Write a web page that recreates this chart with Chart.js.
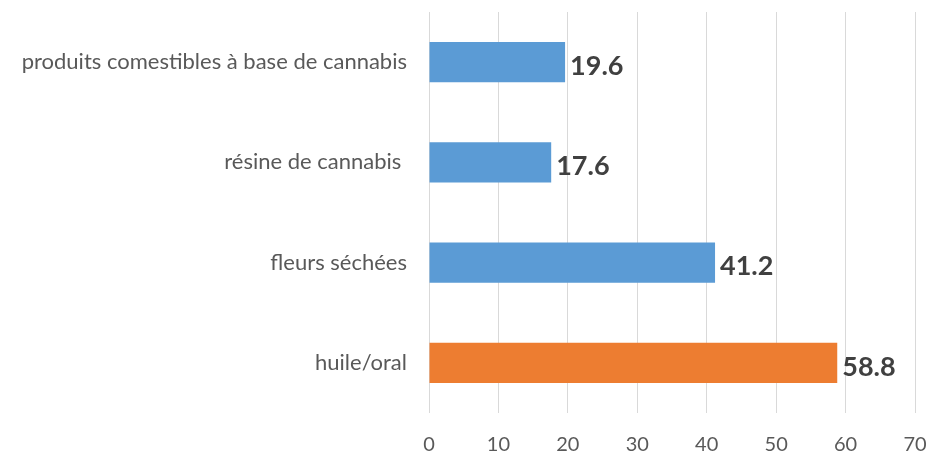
<!DOCTYPE html>
<html>
<head>
<meta charset="utf-8">
<script src="https://cdn.jsdelivr.net/npm/chart.js@4"></script>
<style>
  html, body { margin: 0; padding: 0; background: #fff; }
  #wrap { width: 928px; height: 457px; }
</style>
</head>
<body>
<div id="wrap"><canvas id="chart"></canvas></div>
<script>
// Data
const categories = ['produits comestibles à base de cannabis', 'résine de cannabis ', 'fleurs séchées', 'huile/oral'];
const values = [19.6, 17.6, 41.2, 58.8];
const barColors = ['#5B9BD5', '#5B9BD5', '#5B9BD5', '#ED7D31'];

// Draw value labels at the end of each bar
const valueLabels = {
  id: 'valueLabels',
  afterDatasetsDraw(chart) {
    const ctx = chart.ctx;
    const meta = chart.getDatasetMeta(0);
    ctx.save();
    ctx.font = 'bold 27px Lato';
    ctx.fillStyle = '#404040';
    ctx.textAlign = 'left';
    ctx.textBaseline = 'middle';
    meta.data.forEach((bar, i) => {
      ctx.fillText(values[i].toFixed(1), bar.x + 5, bar.y + 4);
    });
    ctx.restore();
  }
};

new Chart(document.getElementById('chart'), {
  type: 'bar',
  data: {
    labels: categories,
    datasets: [{
      data: values,
      backgroundColor: barColors,
      barPercentage: 0.4,
      categoryPercentage: 1
    }]
  },
  options: {
    indexAxis: 'y',
    responsive: true,
    maintainAspectRatio: false,
    animation: false,
    layout: { padding: { top: 12, right: 13, left: 0, bottom: 0 } },
    plugins: {
      legend: { display: false },
      tooltip: { enabled: false }
    },
    scales: {
      x: {
        min: 0,
        max: 70,
        ticks: {
          stepSize: 10,
          color: '#595959',
          font: { family: 'Lato', size: 20 },
          padding: 20
        },
        grid: { color: '#D9D9D9', lineWidth: 1, drawTicks: false },
        border: { display: false },
        afterFit: (scale) => {
          scale.height = 44;
          // tick padding would otherwise push the plot edges in
          scale.paddingLeft = 0;
          scale.paddingRight = 0;
        }
      },
      y: {
        ticks: {
          color: '#595959',
          font: { family: 'Lato', size: 22 },
          padding: 22
        },
        grid: { display: false, drawTicks: false },
        border: { display: false },
        afterFit: (scale) => {
          scale.width = 429;
          scale.paddingTop = 0;
          scale.paddingBottom = 0;
        }
      }
    }
  },
  plugins: [valueLabels]
});
</script>
</body>
</html>
